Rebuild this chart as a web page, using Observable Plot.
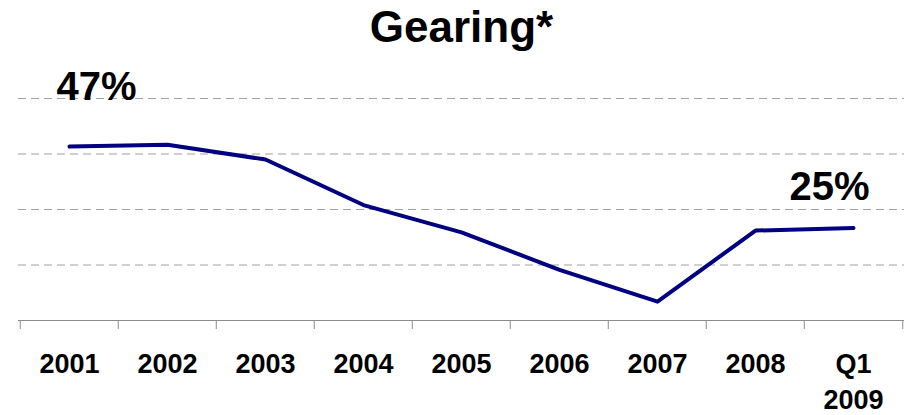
<!DOCTYPE html>
<html>
<head>
<meta charset="utf-8">
<script src="https://cdn.jsdelivr.net/npm/d3@7"></script>
<script src="https://cdn.jsdelivr.net/npm/@observablehq/plot@0.6"></script>
<style>
  html, body { margin: 0; padding: 0; background: #fff; }
  #chart svg { display: block; }
</style>
</head>
<body>
<div id="chart"></div>
<script>
// Gearing by period (percent)
const periods = ["2001", "2002", "2003", "2004", "2005", "2006", "2007", "2008", "Q1\n2009"];
const gearing = [47, 47.5, 43.5, 31.2, 23.8, 13.7, 5.1, 24.3, 25];

// Gridline levels on the 0–60 value axis
const gridLevels = [15, 30, 45, 60];

// Periods that carry a value callout
const calloutStart = "2001";
const calloutEnd = "Q1\n2009";

const titleText = "Gearing*";

const data = periods.map((p, i) => ({period: p, value: gearing[i]}));

const W = 907, H = 415;
const mL = 18, mR = 3, mT = 98, mB = 95;
const halfStep = (W - mL - mR) / periods.length / 2;
const font = "'Liberation Sans', Arial, Helvetica, sans-serif";
const axisGrey = "#8c8c8c";

const chart = Plot.plot({
  width: W,
  height: H,
  marginLeft: mL,
  marginRight: mR,
  marginTop: mT,
  marginBottom: mB,
  style: {fontFamily: font, background: "#fff", color: "#000"},
  x: {type: "band", domain: periods, padding: 0, axis: null, label: null},
  y: {domain: [0, 60], axis: null},
  marks: [
    // dashed horizontal gridlines
    Plot.ruleY(gridLevels, {stroke: "#a0a0a0", strokeWidth: 1, strokeDasharray: "8,5"}),
    // category boundary ticks below the baseline
    Plot.axisX(periods, {tickSize: 9, tickFormat: () => "", label: null, stroke: axisGrey, strokeOpacity: 1, dx: -halfStep}),
    Plot.axisX([periods[periods.length - 1]], {tickSize: 9, tickFormat: () => "", label: null, stroke: axisGrey, strokeOpacity: 1, dx: halfStep}),
    // category labels
    Plot.axisX(periods, {
      tickSize: 0,
      tickPadding: 28,
      label: null,
      fontSize: 27,
      fontWeight: "bold",
      lineHeight: 1.3,
      fill: "#000"
    }),
    // baseline
    Plot.ruleY([0], {stroke: axisGrey, strokeWidth: 1}),
    // gearing line
    Plot.line(data, {
      x: "period",
      y: "value",
      stroke: "#000080",
      strokeWidth: 4,
      strokeLinecap: "round",
      strokeLinejoin: "round"
    }),
    // value callouts
    Plot.text(data.filter(d => d.period === calloutStart), {
      x: "period",
      y: "value",
      text: d => `${d.value}%`,
      dx: 27,
      dy: -47,
      lineAnchor: "bottom",
      fontSize: 40,
      fontWeight: "bold",
      fill: "#000"
    }),
    Plot.text(data.filter(d => d.period === calloutEnd), {
      x: "period",
      y: "value",
      text: d => `${d.value}%`,
      dx: -24,
      dy: -28,
      lineAnchor: "bottom",
      fontSize: 40,
      fontWeight: "bold",
      fill: "#000"
    }),
    // title
    Plot.text([titleText], {
      frameAnchor: "top",
      text: d => d,
      dy: 41 - mT,
      lineAnchor: "bottom",
      fontSize: 44,
      fontWeight: "bold",
      fill: "#000"
    })
  ]
});

document.getElementById("chart").appendChild(chart);
</script>
</body>
</html>
